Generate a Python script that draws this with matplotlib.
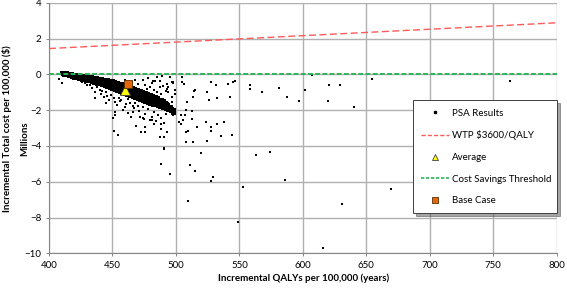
import matplotlib
matplotlib.use("Agg")
import matplotlib.pyplot as plt
from matplotlib.lines import Line2D


# PSA results - dense band of simulations (QALYs, cost in $ millions)
band_qaly = [
    410.1, 410.45, 410.8, 411.1, 411.45, 411.8, 412.1, 412.45, 412.8, 413.1, 413.45, 413.8,
    414.1, 414.45, 414.8, 415.1, 415.45, 415.8, 416.1, 416.45, 416.8, 417.1, 417.45, 417.8,
    418.1, 418.45, 418.8, 419.1, 419.45, 419.8, 420.1, 420.45, 420.8, 421.1, 421.45, 421.8,
    422.1, 422.45, 422.8, 423.1, 423.45, 423.8, 424.1, 424.45, 424.8, 425.1, 425.45, 425.8,
    426.1, 426.45, 426.8, 427.1, 427.45, 427.8, 428.1, 428.45, 428.8, 429.1, 429.45, 429.8,
    430.1, 430.45, 430.8, 431.1, 431.45, 431.8, 432.1, 432.45, 432.8, 433.1, 433.45, 433.8,
    434.1, 434.45, 434.8, 435.1, 435.45, 435.8, 436.1, 436.45, 436.8, 437.1, 437.45, 437.8,
    438.1, 438.45, 438.8, 439.1, 439.45, 439.8, 440.1, 440.45, 440.8, 441.1, 441.45, 441.8,
    442.1, 442.45, 442.8, 443.1, 443.45, 443.8, 444.1, 444.45, 444.8, 445.1, 445.45, 445.8,
    446.1, 446.45, 446.8, 447.1, 447.45, 447.8, 448.1, 448.45, 448.8, 449.1, 449.45, 449.8,
    450.1, 450.45, 450.8, 451.1, 451.45, 451.8, 452.1, 452.45, 452.8, 453.1, 453.45, 453.8,
    454.1, 454.45, 454.8, 455.1, 455.45, 455.8, 456.1, 456.45, 456.8, 457.1, 457.45, 457.8,
    458.1, 458.45, 458.8, 459.1, 459.45, 459.8, 460.1, 460.45, 460.8, 461.1, 461.45, 461.8,
    462.1, 462.45, 462.8, 463.1, 463.45, 463.8, 464.1, 464.45, 464.8, 465.1, 465.45, 465.8,
    466.1, 466.45, 466.8, 467.1, 467.45, 467.8, 468.1, 468.45, 468.8, 469.1, 469.45, 469.8,
    470.1, 470.45, 470.8, 471.1, 471.45, 471.8, 472.1, 472.45, 472.8, 473.1, 473.45, 473.8,
    474.1, 474.45, 474.8, 475.1, 475.45, 475.8, 476.1, 476.45, 476.8, 477.1, 477.45, 477.8,
    478.1, 478.45, 478.8, 479.1, 479.45, 479.8, 480.1, 480.45, 480.8, 481.1, 481.45, 481.8,
    482.1, 482.45, 482.8, 483.1, 483.45, 483.8, 484.1, 484.45, 484.8, 485.1, 485.45, 485.8,
    486.1, 486.45, 486.8, 487.1, 487.45, 487.8, 488.1, 488.45, 488.8, 489.1, 489.45, 489.8,
    490.1, 490.45, 490.8, 491.1, 491.45, 491.8, 492.1, 492.45, 492.8, 493.1, 493.45, 493.8,
    494.1, 494.45, 494.8, 495.1, 495.45, 495.8, 496.1, 496.45, 496.8, 497.1, 497.45, 497.8,
    498.1, 498.45, 498.8,
]
band_cost = [
    0.09, 0.06, 0.02, 0.06, 0.02, -0.02, 0.07, 0.02, -0.02, 0.04, -0.02, -0.06,
    0.05, -0.01, -0.06, 0.01, -0.05, -0.11, 0.03, -0.03, -0.10, -0.01, -0.08, -0.14,
    0.01, -0.06, -0.13, -0.03, -0.11, -0.18, -0.01, -0.09, -0.17, -0.06, -0.15, -0.22,
    -0.03, -0.12, -0.20, -0.08, -0.18, -0.25, -0.05, -0.14, -0.23, -0.11, -0.21, -0.29,
    -0.08, -0.17, -0.27, -0.14, -0.24, -0.33, -0.10, -0.20, -0.30, -0.16, -0.27, -0.37,
    -0.13, -0.23, -0.34, -0.19, -0.31, -0.40, -0.15, -0.26, -0.37, -0.21, -0.34, -0.44,
    -0.17, -0.29, -0.40, -0.24, -0.37, -0.47, -0.20, -0.32, -0.44, -0.27, -0.40, -0.52,
    -0.22, -0.35, -0.48, -0.29, -0.44, -0.56, -0.24, -0.38, -0.52, -0.32, -0.47, -0.61,
    -0.27, -0.42, -0.56, -0.35, -0.52, -0.66, -0.30, -0.46, -0.61, -0.39, -0.56, -0.71,
    -0.33, -0.50, -0.66, -0.43, -0.61, -0.77, -0.37, -0.54, -0.71, -0.46, -0.66, -0.82,
    -0.40, -0.58, -0.76, -0.51, -0.71, -0.88, -0.44, -0.63, -0.82, -0.55, -0.76, -0.94,
    -0.48, -0.68, -0.87, -0.59, -0.81, -0.99, -0.52, -0.72, -0.93, -0.64, -0.86, -1.06,
    -0.56, -0.78, -0.99, -0.68, -0.92, -1.12, -0.61, -0.83, -1.05, -0.73, -0.97, -1.18,
    -0.65, -0.88, -1.10, -0.78, -1.02, -1.23, -0.70, -0.93, -1.16, -0.83, -1.08, -1.29,
    -0.75, -0.98, -1.21, -0.88, -1.13, -1.34, -0.81, -1.03, -1.26, -0.94, -1.18, -1.39,
    -0.86, -1.09, -1.31, -0.99, -1.23, -1.44, -0.91, -1.14, -1.36, -1.04, -1.28, -1.49,
    -0.97, -1.19, -1.41, -1.10, -1.34, -1.54, -1.03, -1.24, -1.46, -1.16, -1.39, -1.59,
    -1.09, -1.30, -1.51, -1.22, -1.44, -1.64, -1.15, -1.36, -1.57, -1.28, -1.50, -1.69,
    -1.21, -1.41, -1.62, -1.34, -1.55, -1.74, -1.27, -1.47, -1.67, -1.40, -1.61, -1.79,
    -1.34, -1.53, -1.72, -1.46, -1.66, -1.83, -1.41, -1.59, -1.78, -1.53, -1.72, -1.88,
    -1.48, -1.65, -1.83, -1.61, -1.79, -1.94, -1.59, -1.74, -1.90, -1.71, -1.87, -2.01,
    -1.70, -1.83, -1.97, -1.81, -1.95, -2.07, -1.83, -1.94, -2.06, -1.95, -2.06, -2.15,
    -1.99, -2.07, -2.15,
]

# PSA results - scattered simulations
spread_qaly = [
    408.0, 410.5, 423.0, 426.0, 430.0, 433.6, 436.2, 438.0, 440.0, 441.0, 443.5, 436.2,
    445.0, 445.0, 447.2, 449.0, 452.0, 453.3, 455.0, 457.0, 458.0, 459.8, 462.0, 462.0,
    463.8, 466.4, 464.6, 467.0, 468.0, 470.0, 471.0, 474.0, 474.3, 476.0, 478.0, 480.9,
    483.0, 484.0, 486.0, 488.0, 452.0, 452.0, 450.6, 451.0, 454.6, 471.6, 468.5, 472.2,
    479.5, 492.7, 487.4, 490.6, 432.0, 428.0, 446.0, 451.0, 456.0, 461.0, 466.0, 442.0,
    474.3, 481.6, 487.4, 492.7, 494.0, 497.4, 495.3, 491.3, 494.0, 496.6, 497.9, 492.7,
    494.0, 490.0, 492.1, 487.4, 489.0, 483.2, 481.1, 479.8, 477.4, 489.5, 491.3, 496.9,
    496.9, 495.8, 470.0, 476.0, 485.0, 483.0, 488.0, 465.0, 468.0, 460.0, 478.0, 485.0,
    499.0, 499.0,
    474.8, 475.6, 475.8, 480.9, 482.4, 488.0, 488.4, 490.6, 490.3, 492.1, 497.4, 497.9,
    505.0, 505.0, 506.0, 514.2, 513.6, 527.6, 531.5, 524.6, 525.7, 532.0, 541.0, 545.1,
    546.2, 542.8, 558.3, 558.3, 507.9, 504.2, 505.5, 512.4, 523.4, 527.6, 527.3, 532.5,
    538.0, 535.7, 543.9, 507.6, 509.7, 504.2, 502.6, 490.8, 507.9, 524.2, 519.9, 488.4,
    511.3, 515.2, 495.3, 528.9, 527.6, 509.7, 548.8, 553.0, 563.2, 574.0, 586.1, 607.3,
    580.9, 567.7, 587.4, 596.6, 601.8, 620.5, 628.9, 619.4, 639.9, 654.3, 669.3, 763.5,
    631.0, 615.5, 516.3, 513.1, 515.0, 507.0, 512.4, 508.4,
]
spread_cost = [
    -0.28, -0.50, -0.32, -0.45, -0.60, -0.78, -0.97, -0.72, -0.85, -1.10, -1.25, -1.34,
    -1.00, -1.60, -1.44, -1.15, -1.53, -1.72, -1.30, -1.45, -2.00, -1.81, -1.40, -2.15,
    -1.62, -2.09, -2.37, -1.90, -1.60, -1.75, -2.05, -1.85, -2.46, -2.20, -1.95, -2.55,
    -2.10, -2.60, -2.25, -2.80, -2.27, -2.09, -2.46, -3.15, -3.39, -2.37, -2.89, -3.20,
    -2.55, -3.20, -3.48, -4.14, -0.62, -0.50, -1.20, -1.30, -1.50, -1.65, -1.75, -0.95,
    -0.32, -0.37, -0.69, -0.84, -0.97, -0.41, -0.13, -1.44, -1.62, -0.41, -0.50, -0.52,
    -0.71, -0.67, -0.95, -0.37, -0.10, -0.36, -0.50, -0.71, -0.82, -1.40, -1.64, -1.28,
    -1.55, -1.84, -0.55, -0.60, -1.00, -0.85, -1.10, -0.45, -0.30, -0.30, -0.20, -0.15,
    -0.90, -1.10,
    -2.51, -2.93, -3.24, -2.39, -2.76, -2.46, -3.06, -2.74, -3.52, -2.22, -2.09, -2.29,
    -0.17, -0.45, -0.54, -0.92, -1.28, -0.41, -0.60, -1.01, -1.44, -1.33, -0.56, -0.41,
    -0.36, -1.25, -0.60, -0.82, -1.99, -2.27, -2.53, -2.50, -2.65, -2.94, -3.15, -2.78,
    -2.65, -3.45, -3.41, -3.21, -3.17, -2.79, -2.68, -4.19, -3.80, -3.71, -4.40, -5.03,
    -5.07, -5.39, -5.55, -5.72, -5.98, -7.09, -8.23, -6.28, -4.53, -4.32, -5.90, -0.04,
    -0.75, -0.97, -1.27, -1.49, -0.90, -0.58, -0.62, -1.49, -1.83, -0.25, -6.39, -0.37,
    -7.27, -9.69, -2.93, -3.76, -0.88, -2.27, -2.03, -1.53,
]

# Reference lines and summary points
wtp_qaly = [400, 800]
wtp_cost = [1.44, 2.88]
threshold_qaly = [400, 800]
threshold_cost = [0, 0]
average_qaly, average_cost = 459.8, -0.90
base_qaly, base_cost = 462.0, -0.54

x_ticks = [400, 450, 500, 550, 600, 650, 700, 750, 800]
y_ticks = [-10, -8, -6, -4, -2, 0, 2, 4]


plt.rcParams['font.family'] = ['Lato', 'DejaVu Sans']
fs = 7

fig = plt.figure(figsize=(5.67, 2.88), dpi=100)
ax = fig.add_axes([0.0864, 0.1205, 0.8956, 0.870])

# dense band drawn with slightly bigger dots so it reads as a solid wedge
ax.plot(band_qaly, band_cost, linestyle='none',
        marker='s', markersize=2.7, color='black', markeredgewidth=0, zorder=3)
ax.plot(spread_qaly, spread_cost, linestyle='none',
        marker='s', markersize=2.0, color='black', markeredgewidth=0, zorder=3)
ax.plot(wtp_qaly, wtp_cost, color='#FF5B5B', lw=1.0, dashes=(5, 2.5), zorder=4)
ax.plot([average_qaly], [average_cost], marker='^', markersize=7.5,
        color='#FFFF00', markeredgecolor='#404040', markeredgewidth=0.6, zorder=6)
ax.plot(threshold_qaly, threshold_cost, color='#2EB35A', lw=1.4, dashes=(2.5, 1.2), zorder=5)
ax.plot([base_qaly], [base_cost], marker='s', markersize=6,
        color='#E8650F', markeredgecolor='#5A3000', markeredgewidth=0.6, zorder=7)

ax.set_xlim(400, 800)
ax.set_ylim(-10, 4)
ax.set_xticks(x_ticks)
ax.set_yticks(y_ticks)
ax.grid(True, color='#B0B0B0', lw=1.0)
ax.set_axisbelow(True)
for side in ['top', 'right']:
    ax.spines[side].set_visible(False)
for side in ['left', 'bottom']:
    ax.spines[side].set_color('#868686')
    ax.spines[side].set_linewidth(0.8)
ax.tick_params(labelsize=fs, length=2.5, width=0.7, color='#868686', pad=3)

fig.text(0.535, 0.035, 'Incremental QALYs per 100,000 (years)', fontsize=fs,
         fontweight='bold', ha='center', va='center')
fig.text(0.013, 0.555, 'Incremental Total cost per 100,000 ($)', fontsize=fs,
         fontweight='bold', ha='center', va='center', rotation=90)
fig.text(0.043, 0.52, 'Millions', fontsize=fs, fontweight='bold',
         ha='center', va='center', rotation=90)

handles = [
    Line2D([], [], linestyle='none', marker='s', markersize=1.5, color='black'),
    Line2D([], [], color='#FF5B5B', lw=1.0, dashes=(3, 1.5)),
    Line2D([], [], linestyle='none', marker='^', markersize=5, color='#FFFF00',
           markeredgecolor='#404040', markeredgewidth=0.6),
    Line2D([], [], color='#2EB35A', lw=1.2, dashes=(2, 1)),
    Line2D([], [], linestyle='none', marker='s', markersize=4.5, color='#E8650F',
           markeredgecolor='#5A3000', markeredgewidth=0.6),
]
labels = ['PSA Results', 'WTP $3600/QALY', 'Average', 'Cost Savings Threshold', 'Base Case']
leg = ax.legend(handles, labels, loc='center', bbox_to_anchor=(0.7165, 0.161, 0.2835, 0.447),
                mode='expand', fontsize=fs, frameon=True, fancybox=False, shadow=True,
                labelspacing=1.3, handlelength=2.9, handletextpad=0.3,
                borderpad=0.85, borderaxespad=0)
leg.get_frame().set_edgecolor('#404040')
leg.get_frame().set_linewidth(0.7)
leg.set_zorder(10)

fig.savefig('out.png', dpi=100)
